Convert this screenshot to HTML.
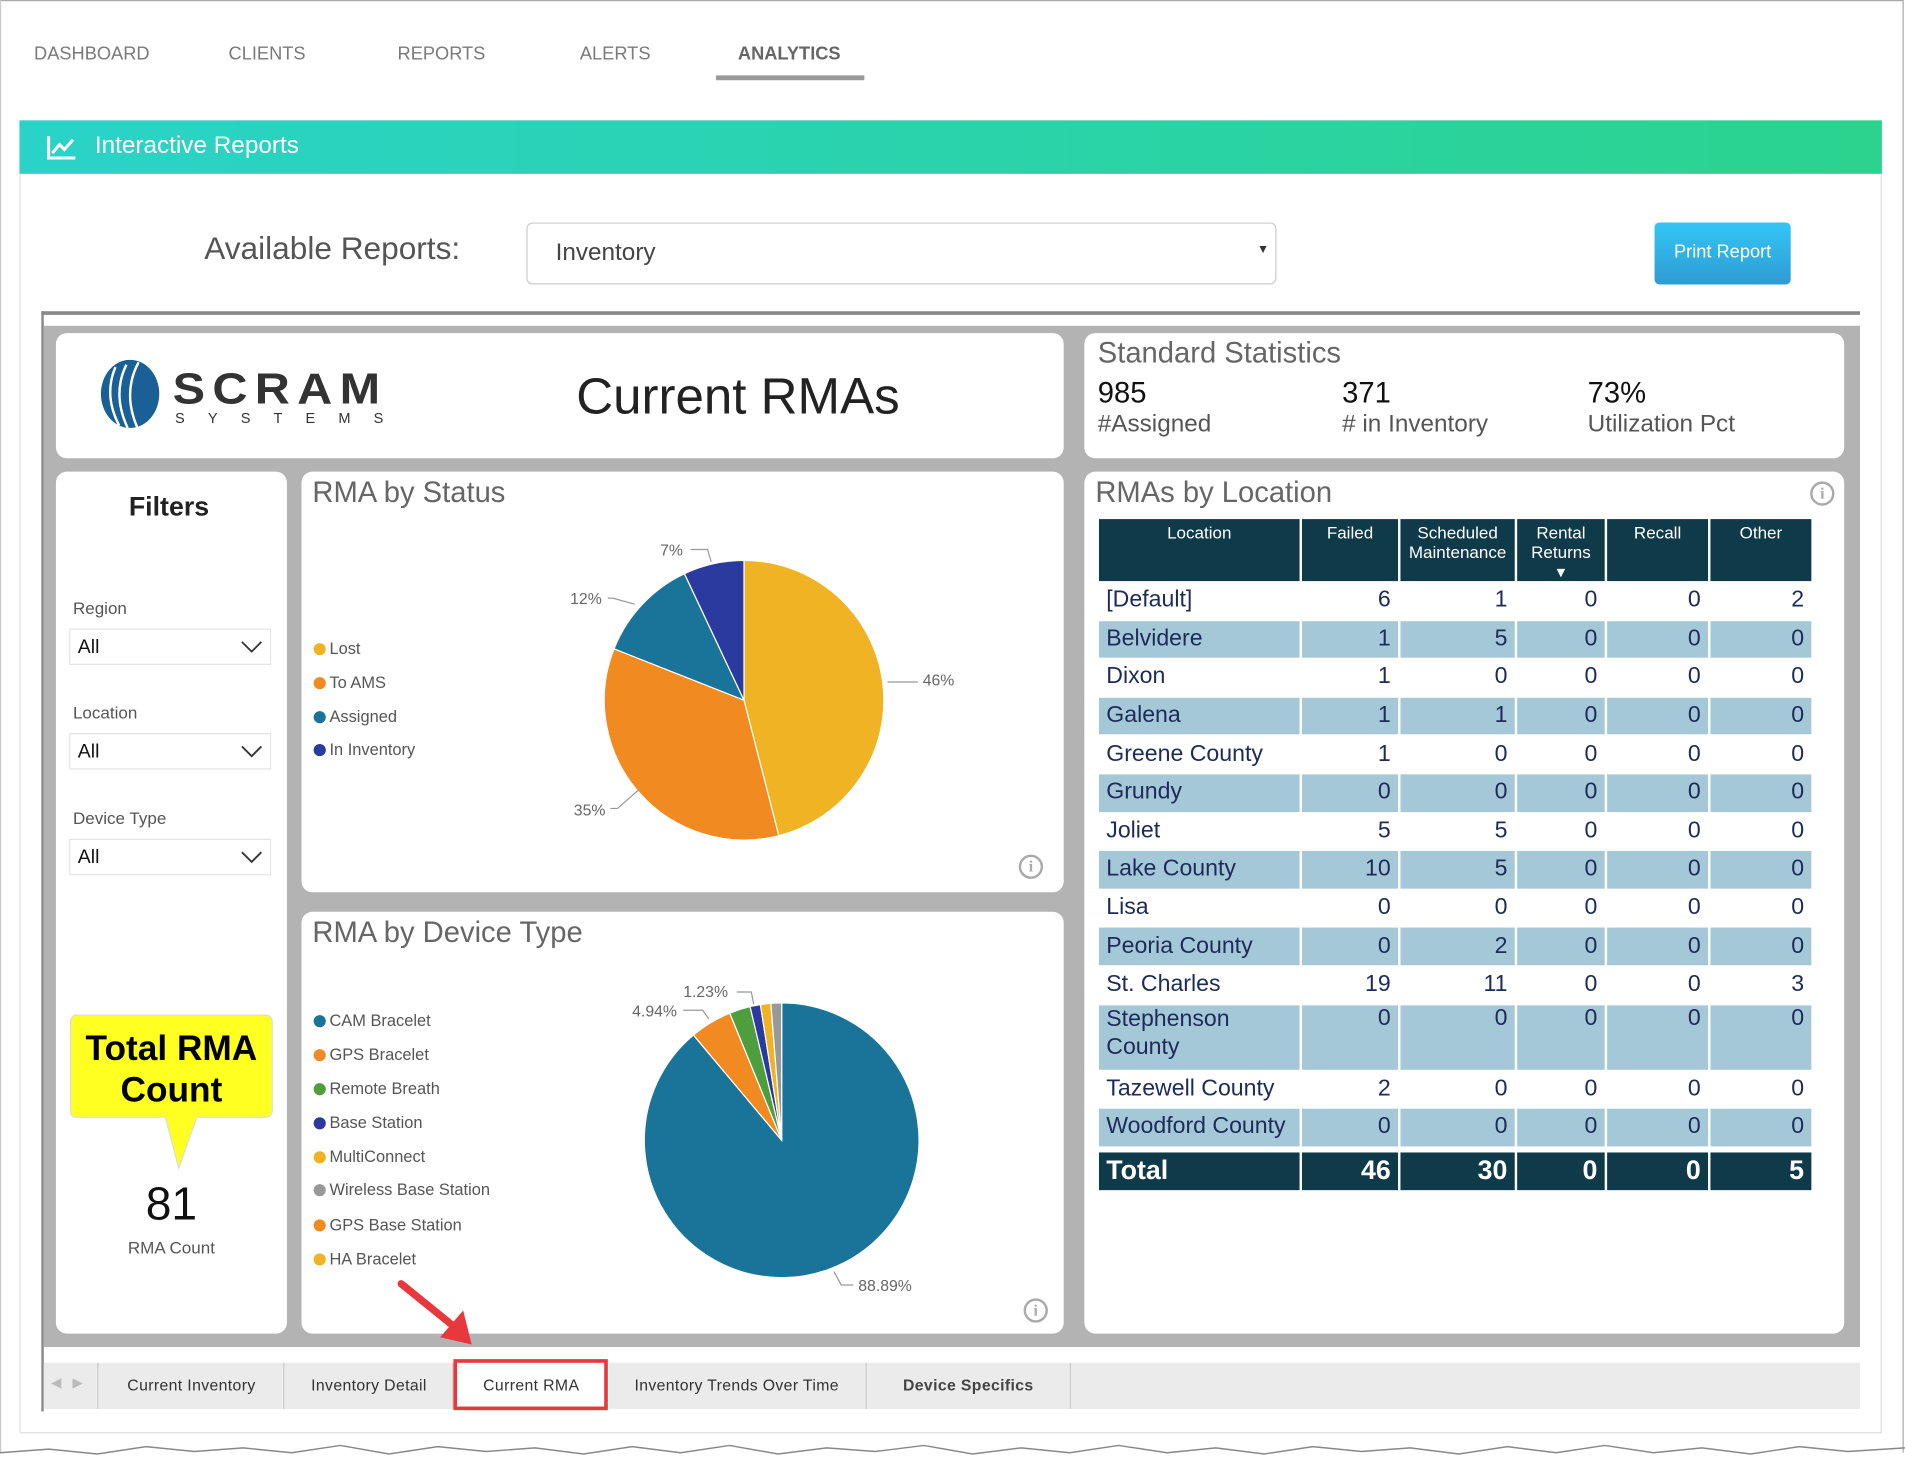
<!DOCTYPE html>
<html><head><meta charset="utf-8"><style>
html,body{margin:0;padding:0;width:1905px;height:1464px;overflow:hidden;background:#fff;font-family:"Liberation Sans",Arial,sans-serif}
#w{position:absolute;left:0;top:0;width:1567px;height:1205px;transform:scale(1.21568);transform-origin:0 0}
.a{position:absolute}
.nav{position:absolute;top:36px;font-size:15px;color:#7a7a7a}
.panel{position:absolute;background:#fff;border-radius:9px}
.ttl{position:absolute;font-size:24px;color:#666}
.lg{position:absolute;left:10px;font-size:13.5px;color:#555;white-space:nowrap}
.lg i{display:inline-block;width:10px;height:10px;border-radius:50%;margin-right:3px;vertical-align:-1px}
.sel{position:absolute;left:11px;width:166px;height:30px;border:1px solid #e4e4e4;box-sizing:border-box;font-size:16px;color:#111;padding:6px 0 0 6px}
.sel svg{position:absolute;right:6px;top:9px}
.flab{position:absolute;left:14px;font-size:14px;color:#555}
table{border-collapse:separate;border-spacing:2px 1px;position:absolute;left:902px;top:426px;width:590px;table-layout:fixed}
td{font-size:19px;color:#1c2b57;padding:0 6px;height:30.6px;text-align:right;white-space:nowrap;overflow:hidden}
td:first-child{text-align:left}
tr.b td{background:#a5c8d8}
th{background:#0f3a4a;color:#fff;font-weight:normal;font-size:14px;height:46px;vertical-align:top;padding:3px 0 0;line-height:16px;overflow:hidden}
tr.t td{background:#0f3a4a;color:#fff;font-weight:bold;font-size:22px;height:31px}
tr.sp td{height:3px;padding:0}
.tab{position:absolute;top:1121px;height:38px;font-size:13px;color:#333;text-align:center;line-height:38px;border-left:1px solid #ccc;letter-spacing:.3px}
.info{position:absolute;width:20px;height:20px;border:2px solid #aaa;border-radius:50%;box-sizing:border-box;color:#aaa;font-size:13px;font-weight:bold;text-align:center;line-height:16px;font-family:"Liberation Serif",serif}
</style></head><body><div id="w">
<div class="a" style="left:0;top:0;width:1565px;height:1px;background:#aaa"></div>
<div class="a" style="left:1565px;top:0;width:1px;height:1195px;background:#aaa"></div>
<div class="a" style="left:0;top:0;width:1px;height:1195px;background:#ccc"></div>
<div class="nav" style="left:28px">DASHBOARD</div>
<div class="nav" style="left:188px">CLIENTS</div>
<div class="nav" style="left:327px">REPORTS</div>
<div class="nav" style="left:477px">ALERTS</div>
<div class="nav" style="left:607px;color:#666;font-weight:bold">ANALYTICS</div>
<div class="a" style="left:589px;top:62px;width:122px;height:4px;background:#999"></div>

<div class="a" style="left:16px;top:99px;width:1532px;height:1080px;border:1px solid #e0e0e0;box-sizing:border-box"></div>
<div class="a" style="left:16px;top:99px;width:1532px;height:44px;background:linear-gradient(90deg,#2ad3c8,#2bd38e)"></div>
<svg class="a" style="left:38px;top:110px" width="26" height="22"><path d="M2 2V20H24" stroke="#fff" stroke-width="2.5" fill="none"/><path d="M5 16L11 9L15 13L22 5" stroke="#fff" stroke-width="2.5" fill="none"/></svg>
<div class="a" style="left:78px;top:109px;font-size:20px;color:#fff">Interactive Reports</div>

<div class="a" style="left:168px;top:189px;font-size:26px;color:#555">Available Reports:</div>
<div class="a" style="left:433px;top:183px;width:617px;height:51px;border:1px solid #ccc;border-radius:5px;box-sizing:border-box"></div>
<div class="a" style="left:457px;top:197px;font-size:20px;color:#444">Inventory</div>
<div class="a" style="left:1034px;top:200px;font-size:10px;color:#333">▼</div>
<div class="a" style="left:1361px;top:183px;width:112px;height:51px;border-radius:4px;background:linear-gradient(#33c6f6,#2f9bd3);color:#fff;font-size:15px;text-align:center;line-height:50px">Print Report</div>

<div class="a" style="left:34px;top:256px;width:1496px;height:905px;border-left:2px solid #888;box-sizing:border-box;background:#fff"></div>
<div class="a" style="left:34px;top:256px;width:1496px;height:3px;background:#888"></div>
<div class="a" style="left:36px;top:268px;width:1494px;height:840px;background:#b3b3b3"></div>

<div class="panel" style="left:46px;top:274px;width:829px;height:103px"></div>
<svg class="a" style="left:80px;top:292px" width="60" height="65"><ellipse cx="27" cy="32" rx="24" ry="28" fill="#1a5f95"/><path d="M15 10Q5 33 18 58M24 8Q12 32 25 60M34 6Q20 32 34 62" stroke="#fff" stroke-width="2" fill="none"/></svg>
<div class="a" style="left:142px;top:298px;font-size:40px;font-weight:bold;color:#333;letter-spacing:6px;transform:scaleY(0.9)">SCRAM</div>
<div class="a" style="left:144px;top:337px;font-size:12px;color:#333;letter-spacing:19px">SYSTEMS</div>
<div class="a" style="left:474px;top:302px;font-size:42px;color:#222">Current RMAs</div>

<div class="panel" style="left:892px;top:274px;width:625px;height:103px"></div>
<div class="ttl" style="left:903px;top:277px">Standard Statistics</div>
<div class="a" style="left:903px;top:310px;font-size:24px;color:#111">985</div>
<div class="a" style="left:1104px;top:310px;font-size:24px;color:#111">371</div>
<div class="a" style="left:1306px;top:310px;font-size:24px;color:#111">73%</div>
<div class="a" style="left:903px;top:338px;font-size:20px;color:#555">#Assigned</div>
<div class="a" style="left:1104px;top:338px;font-size:20px;color:#555"># in Inventory</div>
<div class="a" style="left:1306px;top:338px;font-size:20px;color:#555">Utilization Pct</div>

<div class="panel" style="left:46px;top:388px;width:190px;height:709px">
<div class="a" style="left:0;width:186px;top:16px;text-align:center;font-size:22px;font-weight:bold;color:#222">Filters</div>
<div class="flab" style="top:104px">Region</div>
<div class="sel" style="top:129px">All<svg width="18" height="10"><path d="M1 1L9 9L17 1" stroke="#333" stroke-width="1.5" fill="none"/></svg></div>
<div class="flab" style="top:190px">Location</div>
<div class="sel" style="top:215px">All<svg width="18" height="10"><path d="M1 1L9 9L17 1" stroke="#333" stroke-width="1.5" fill="none"/></svg></div>
<div class="flab" style="top:277px">Device Type</div>
<div class="sel" style="top:302px">All<svg width="18" height="10"><path d="M1 1L9 9L17 1" stroke="#333" stroke-width="1.5" fill="none"/></svg></div>
<svg class="a" style="left:8px;top:445px" width="175" height="130"><path d="M6 2H164Q170 2 170 8V80Q170 86 164 86H108L93 128L82 86H8Q4 86 4 80V8Q4 2 10 2Z" fill="#ffff22" stroke="#ddd" stroke-width="1"/></svg>
<div class="a" style="left:12px;top:458px;width:166px;text-align:center;font-size:29px;font-weight:bold;color:#000;line-height:34px">Total RMA<br>Count</div>
<div class="a" style="left:0;width:190px;top:582px;text-align:center;font-size:38px;color:#111">81</div>
<div class="a" style="left:0;width:190px;top:630px;text-align:center;font-size:14px;color:#555">RMA Count</div>
</div>

<div class="panel" style="left:248px;top:388px;width:627px;height:346px">
<div class="ttl" style="left:9px;top:4px">RMA by Status</div>
<div class="lg" style="top:138px"><i style="background:#f0b323"></i>Lost</div>
<div class="lg" style="top:166px"><i style="background:#f18b21"></i>To AMS</div>
<div class="lg" style="top:194px"><i style="background:#1a7499"></i>Assigned</div>
<div class="lg" style="top:221px"><i style="background:#2b3a9e"></i>In Inventory</div>
<div class="info" style="left:590px;top:315px">i</div>
</div>
<div class="panel" style="left:248px;top:750px;width:627px;height:347px">
<div class="ttl" style="left:9px;top:4px">RMA by Device Type</div>
<div class="lg" style="top:82px"><i style="background:#1a7499"></i>CAM Bracelet</div>
<div class="lg" style="top:110px"><i style="background:#f18b21"></i>GPS Bracelet</div>
<div class="lg" style="top:138px"><i style="background:#4f9e3d"></i>Remote Breath</div>
<div class="lg" style="top:166px"><i style="background:#2b3a9e"></i>Base Station</div>
<div class="lg" style="top:194px"><i style="background:#f0b323"></i>MultiConnect</div>
<div class="lg" style="top:221px"><i style="background:#999"></i>Wireless Base Station</div>
<div class="lg" style="top:250px"><i style="background:#f18b21"></i>GPS Base Station</div>
<div class="lg" style="top:278px"><i style="background:#f0b323"></i>HA Bracelet</div>
<div class="info" style="left:594px;top:318px">i</div>
</div>

<svg class="a" style="left:0;top:0" width="1567" height="1205">
<g stroke="#fff" stroke-width="1">
<path d="M612,576L612,461A115,115 0 0 1 640.6,687.4Z" fill="#f0b323"/>
<path d="M612,576L640.6,687.4A115,115 0 0 1 505.1,533.7Z" fill="#f18b21"/>
<path d="M612,576L505.1,533.7A115,115 0 0 1 563,471.9Z" fill="#1a7499"/>
<path d="M612,576L563,471.9A115,115 0 0 1 612,461Z" fill="#2b3a9e"/>
<path d="M643,938L643,825A113,113 0 1 1 570.4,851.4Z" fill="#1a7499"/>
<path d="M643,938L570.4,851.4A113,113 0 0 1 600.3,833.4Z" fill="#f18b21"/>
<path d="M643,938L600.3,833.4A113,113 0 0 1 617,828Z" fill="#4f9e3d"/>
<path d="M643,938L617,828A113,113 0 0 1 625.5,826.4Z" fill="#2b3a9e"/>
<path d="M643,938L625.5,826.4A113,113 0 0 1 634.1,825.3Z" fill="#f0b323"/>
<path d="M643,938L634.1,825.3A113,113 0 0 1 643,825Z" fill="#999"/>
</g>
<g stroke="#999" fill="none" stroke-width="1">
<path d="M730,561H755"/><path d="M525,650L508,665H502"/><path d="M522,497L504,492H500"/><path d="M585,462L582,452H568"/>
<path d="M686,1046L692,1057H702"/><path d="M583,838L578,831H562"/><path d="M620,826L618,816H606"/>
</g>
<g font-size="13" fill="#666" font-family="Liberation Sans,sans-serif">
<text x="759" y="564">46%</text><text x="472" y="671">35%</text><text x="469" y="497">12%</text><text x="543" y="457">7%</text>
<text x="706" y="1062">88.89%</text><text x="520" y="836">4.94%</text><text x="562" y="820">1.23%</text>
</g>
<path d="M330,1056L372,1090" stroke="#e8383d" stroke-width="6" stroke-linecap="round"/>
<path d="M388,1106L362,1100L381,1078Z" fill="#e8383d"/>
<path d="M0,1195 L40,1192 L80,1196 L120,1190 L160,1194 L200,1191 L240,1195 L280,1189 L320,1196 L360,1190 L400,1194 L440,1191 L480,1196 L520,1190 L560,1195 L600,1189 L640,1196 L680,1191 L720,1194 L760,1189 L800,1196 L840,1191 L880,1195 L920,1189 L960,1195 L1000,1191 L1040,1196 L1080,1190 L1120,1194 L1160,1191 L1200,1196 L1240,1190 L1280,1195 L1320,1189 L1360,1195 L1400,1191 L1440,1196 L1480,1190 L1520,1194 L1567,1191" stroke="#888" fill="none" stroke-width="1.2"/>
</svg>

<div class="panel" style="left:892px;top:388px;width:625px;height:709px">
<div class="ttl" style="left:9px;top:4px">RMAs by Location</div>
<div class="info" style="left:597px;top:8px">i</div>
</div>
<table>
<colgroup><col style="width:165px"><col style="width:79px"><col style="width:94px"><col style="width:72px"><col style="width:83px"><col style="width:83px"></colgroup>
<tr><th>Location</th><th>Failed</th><th>Scheduled Maintenance</th><th>Rental Returns<br>▾</th><th>Recall</th><th>Other</th></tr>
<tr><td>[Default]</td><td>6</td><td>1</td><td>0</td><td>0</td><td>2</td></tr>
<tr class="b"><td>Belvidere</td><td>1</td><td>5</td><td>0</td><td>0</td><td>0</td></tr>
<tr><td>Dixon</td><td>1</td><td>0</td><td>0</td><td>0</td><td>0</td></tr>
<tr class="b"><td>Galena</td><td>1</td><td>1</td><td>0</td><td>0</td><td>0</td></tr>
<tr><td>Greene County</td><td>1</td><td>0</td><td>0</td><td>0</td><td>0</td></tr>
<tr class="b"><td>Grundy</td><td>0</td><td>0</td><td>0</td><td>0</td><td>0</td></tr>
<tr><td>Joliet</td><td>5</td><td>5</td><td>0</td><td>0</td><td>0</td></tr>
<tr class="b"><td>Lake County</td><td>10</td><td>5</td><td>0</td><td>0</td><td>0</td></tr>
<tr><td>Lisa</td><td>0</td><td>0</td><td>0</td><td>0</td><td>0</td></tr>
<tr class="b"><td>Peoria County</td><td>0</td><td>2</td><td>0</td><td>0</td><td>0</td></tr>
<tr><td>St. Charles</td><td>19</td><td>11</td><td>0</td><td>0</td><td>3</td></tr>
<tr class="b"><td style="height:53px;line-height:23px;vertical-align:top;white-space:normal">Stephenson<br>County</td><td style="vertical-align:top">0</td><td style="vertical-align:top">0</td><td style="vertical-align:top">0</td><td style="vertical-align:top">0</td><td style="vertical-align:top">0</td></tr>
<tr><td>Tazewell County</td><td>2</td><td>0</td><td>0</td><td>0</td><td>0</td></tr>
<tr class="b"><td>Woodford County</td><td>0</td><td>0</td><td>0</td><td>0</td><td>0</td></tr>
<tr class="sp"><td></td><td></td><td></td><td></td><td></td><td></td></tr>
<tr class="t"><td>Total</td><td>46</td><td>30</td><td>0</td><td>0</td><td>5</td></tr>
</table>

<div class="a" style="left:36px;top:1121px;width:1494px;height:38px;background:#ebebeb"></div>
<div class="a" style="left:42px;top:1131px;font-size:11px;color:#bbb">◀ &nbsp;&nbsp;▶</div>
<div class="tab" style="left:80px;width:153px">Current Inventory</div>
<div class="tab" style="left:233px;width:139px">Inventory Detail</div>
<div class="tab" style="left:372px;width:128px;background:#fff">Current RMA</div>
<div class="a" style="left:373px;top:1118px;width:127px;height:42px;border:3px solid #e8383d;box-sizing:border-box"></div>
<div class="tab" style="left:500px;width:212px;border-left:none">Inventory Trends Over Time</div>
<div class="tab" style="left:712px;width:167px;border-right:1px solid #ccc;font-weight:bold;color:#444">Device Specifics</div>
</div></body></html>
